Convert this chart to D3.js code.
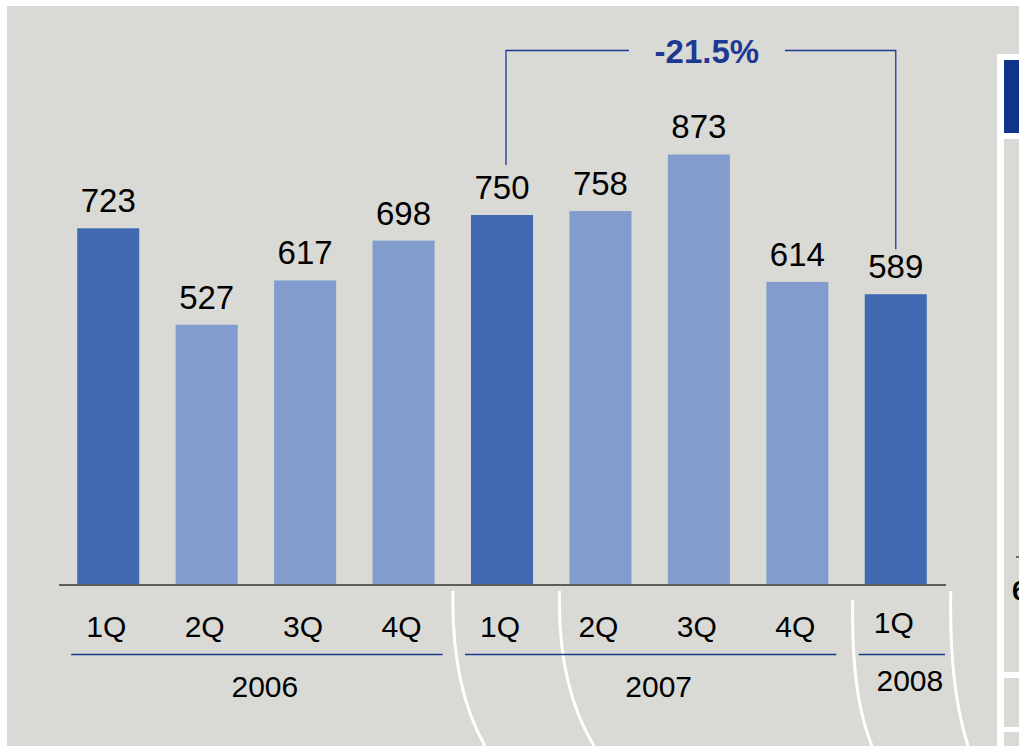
<!DOCTYPE html>
<html>
<head>
<meta charset="utf-8">
<script src="https://cdn.jsdelivr.net/npm/d3@7"></script>
<style>
    html, body { margin: 0; padding: 0; background: #fff; }
    svg { display: block; font-family: "Liberation Sans", Arial, sans-serif; }
</style>
</head>
<body>
<svg id="chart"></svg>
<script>
"use strict";

// данные
var quarters = ["1Q", "2Q", "3Q", "4Q", "1Q", "2Q", "3Q", "4Q", "1Q"];
var years = ["2006", "2006", "2006", "2006", "2007", "2007", "2007", "2007", "2008"];
var values = [723, 527, 617, 698, 750, 758, 873, 614, 589];
var highlighted = [true, false, false, false, true, false, false, false, true];
var changeLabel = "-21.5%";
var changeFrom = 4;
var changeTo = 8;

// подготовка переменных
var iWidth = 1019;
var iHeight = 746;
var iBaseline = 584;
var sBack = "#d9d9d5";
var sDark = "#4169b1";
var sLight = "#829dcd";
var sNavy = "#1d3a93";

var keys = values.map((v, i) => i);

var svg = d3.select("#chart")
    .attr("width", iWidth)
    .attr("height", iHeight);

// фон
svg.append("rect")
    .attr("x", 7).attr("y", 6)
    .attr("width", iWidth - 7).attr("height", iHeight - 6)
    .attr("fill", sBack);

// шкала x
var xScale = d3.scaleBand()
    .domain(keys)
    .range([59, 945])
    .paddingInner(0.37)
    .paddingOuter(0.185);

// шкала y
var yScale = d3.scaleLinear()
    .domain([0, 1000])
    .range([iBaseline, iBaseline - 492]);

var bw = xScale.bandwidth();
var cx = i => xScale(i) + bw / 2;

// белые дуги внизу
var arcs = [
    [xScale(4) - 18, 591, 485],
    [xScale(5) - 10, 591, 594],
    [xScale(8) - 12, 600, 872],
    [xScale(8) + bw + 24, 591, 968]
];
svg.selectAll(".arc")
    .data(arcs)
    .enter().append("path")
    .attr("class", "arc")
    .attr("fill", "none")
    .attr("stroke", "#fff")
    .attr("stroke-width", 3)
    .attr("d", d => `M${d[0]},${d[1]} Q${d[0] - 2},${d[1] + 95} ${d[2]},${iHeight}`);

// столбцы
svg.selectAll(".bar")
    .data(keys)
    .enter().append("rect")
    .attr("class", "bar")
    .attr("x", i => xScale(i))
    .attr("width", bw)
    .attr("y", i => yScale(values[i]))
    .attr("height", i => yScale(0) - yScale(values[i]))
    .attr("fill", i => highlighted[i] ? sDark : sLight);

// подписи значений
svg.selectAll(".value")
    .data(keys)
    .enter().append("text")
    .attr("class", "value")
    .attr("x", i => cx(i))
    .attr("y", i => yScale(values[i]) - 16)
    .attr("text-anchor", "middle")
    .attr("font-size", 33)
    .attr("fill", "#000")
    .text(i => values[i]);

// ось x
svg.append("line")
    .attr("x1", 59).attr("x2", 946)
    .attr("y1", iBaseline + 1).attr("y2", iBaseline + 1)
    .attr("stroke", "#333")
    .attr("stroke-width", 1.5);

// кварталы
svg.selectAll(".quarter")
    .data(keys)
    .enter().append("text")
    .attr("class", "quarter")
    .attr("x", i => cx(i) - 2)
    .attr("y", i => years[i] === "2008" ? 633 : 637)
    .attr("text-anchor", "middle")
    .attr("font-size", 30)
    .attr("fill", "#000")
    .text(i => quarters[i]);

// годы
var groups = d3.groups(keys, i => years[i]);
groups.forEach(function(g) {
    var first = g[1][0];
    var last = g[1][g[1].length - 1];
    var x1 = xScale(first) - 6;
    var x2 = g[1].length > 1 ? xScale(last) + bw + 8 : 945;
    svg.append("line")
        .attr("x1", x1).attr("x2", x2)
        .attr("y1", 654.5).attr("y2", 654.5)
        .attr("stroke", sNavy)
        .attr("stroke-width", 1.3);
    svg.append("text")
        .attr("x", (x1 + x2) / 2 + 8)
        .attr("y", g[0] === "2008" ? 691 : 697)
        .attr("text-anchor", "middle")
        .attr("font-size", 30)
        .attr("fill", "#000")
        .text(g[0]);
});

// скобка изменения
var yTop = 50.5;
var xa = cx(changeFrom) + 4;
var xb = cx(changeTo);
var xMid = (xa + xb) / 2 + 6;
svg.append("path")
    .attr("fill", "none")
    .attr("stroke", sNavy)
    .attr("stroke-width", 1.3)
    .attr("d", `M${xa},${yScale(values[changeFrom]) - 50} V${yTop} H${xMid - 78}`);
svg.append("path")
    .attr("fill", "none")
    .attr("stroke", sNavy)
    .attr("stroke-width", 1.3)
    .attr("d", `M${xMid + 78},${yTop} H${xb} V${yScale(values[changeTo]) - 45}`);
svg.append("text")
    .attr("x", xMid)
    .attr("y", 63)
    .attr("text-anchor", "middle")
    .attr("font-size", 33)
    .attr("font-weight", "bold")
    .attr("fill", sNavy)
    .text(changeLabel);

// панель справа (обрезана)
svg.append("rect")
    .attr("x", 997).attr("y", 54)
    .attr("width", 30).attr("height", 700)
    .attr("fill", "#fff");
svg.append("rect")
    .attr("x", 1004).attr("y", 60)
    .attr("width", 20).attr("height", 73)
    .attr("fill", "#12338a");
svg.append("rect")
    .attr("x", 1004).attr("y", 139)
    .attr("width", 20).attr("height", 533)
    .attr("fill", sBack);
svg.append("rect")
    .attr("x", 1004).attr("y", 678)
    .attr("width", 20).attr("height", 49)
    .attr("fill", sBack);
svg.append("rect")
    .attr("x", 1004).attr("y", 732)
    .attr("width", 20).attr("height", 20)
    .attr("fill", sBack);
svg.append("line")
    .attr("x1", 1016).attr("x2", 1019)
    .attr("y1", 557).attr("y2", 557)
    .attr("stroke", "#000");
svg.append("text")
    .attr("x", 1012)
    .attr("y", 600)
    .attr("font-size", 27)
    .attr("font-weight", "bold")
    .attr("fill", "#000")
    .text("6");
</script>
</body>
</html>
